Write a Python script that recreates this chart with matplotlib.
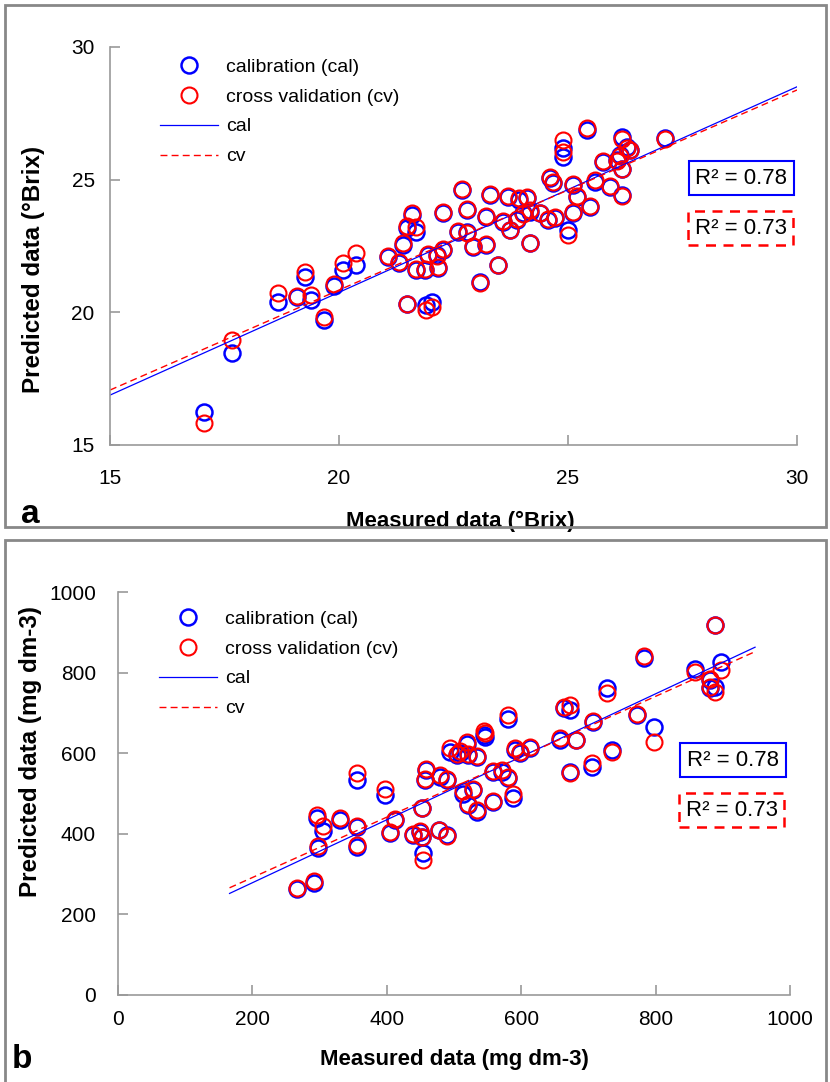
import matplotlib
matplotlib.use("Agg")
import matplotlib.pyplot as plt
from matplotlib.patches import Rectangle
from matplotlib import font_manager

# --- panel a: soluble solids (°Brix) ---
brix_meas = [17.06, 17.67, 18.67, 19.08, 19.26, 19.38, 19.67, 19.88, 20.09, 20.37,
             21.08, 21.30, 21.39, 21.48, 21.48, 21.59, 21.69, 21.69, 21.88, 21.91,
             22.02, 21.95, 22.13, 22.17, 22.28, 22.28, 22.68, 22.60, 22.79, 22.79,
             22.93, 23.22, 23.30, 23.22, 23.48, 23.08, 23.70, 23.59, 23.73, 23.92,
             24.10, 24.17, 24.02, 24.17, 23.88, 24.39, 24.61, 24.68, 24.57, 24.72,
             24.90, 24.90, 25.00, 25.12, 25.19, 25.12, 25.41, 25.48, 25.59, 25.77,
             25.92, 26.17, 26.17, 26.28, 26.14, 26.17, 26.35, 27.12, 26.06]
brix_cal = [16.26, 18.48, 20.40, 20.59, 21.34, 20.47, 19.71, 21.00, 21.60, 21.78,
            22.10, 21.85, 22.54, 20.31, 23.17, 23.67, 23.04, 21.60, 21.60, 20.28,
            20.40, 22.16, 22.16, 21.66, 22.35, 23.73, 24.61, 23.04, 23.86, 23.04,
            22.47, 23.60, 24.42, 22.54, 21.78, 21.16, 24.36, 23.42, 23.10, 24.23,
            24.30, 23.79, 23.73, 22.60, 23.48, 23.73, 25.05, 24.86, 23.48, 23.54,
            26.20, 25.87, 23.10, 24.80, 24.36, 23.73, 26.86, 23.98, 24.92, 25.68,
            24.73, 24.42, 26.62, 26.24, 25.93, 25.42, 26.12, 26.56, 25.74]
brix_cv = [15.84, 18.96, 20.74, 20.62, 21.53, 20.65, 19.84, 21.05, 21.85, 22.22,
           22.12, 21.90, 22.60, 20.31, 23.25, 23.75, 23.23, 21.62, 21.64, 20.09,
           20.20, 22.20, 22.14, 21.70, 22.38, 23.80, 24.64, 23.06, 23.88, 23.00,
           22.50, 23.62, 24.45, 22.56, 21.80, 21.12, 24.40, 23.45, 23.12, 24.30,
           24.35, 23.85, 23.70, 22.60, 23.50, 23.76, 25.10, 24.90, 23.50, 23.60,
           26.50, 26.06, 22.90, 24.85, 24.40, 23.78, 26.95, 24.02, 24.98, 25.72,
           24.76, 24.40, 26.55, 26.20, 25.90, 25.40, 26.10, 26.52, 25.70]
brix_fit_x = [15, 30]
brix_fit_cal = [16.88, 28.50]
brix_fit_cv = [17.07, 28.38]

# --- panel b: mg dm-3 ---
mg_meas = [266, 292, 296, 305, 298, 330, 355, 355, 355, 397,
           412, 405, 452, 439, 449, 452, 454, 477, 490, 459,
           457, 479, 489, 494, 504, 519, 521, 534, 544, 514,
           521, 534, 529, 558, 558, 571, 581, 588, 591, 598,
           613, 581, 658, 663, 673, 673, 682, 707, 727, 705,
           735, 782, 772, 797, 859, 888, 898, 881, 888, 881,
           546, 509]
mg_cal = [262, 278, 438, 408, 365, 435, 533, 418, 368, 496,
          434, 401, 463, 397, 405, 393, 352, 409, 397, 558,
          533, 542, 533, 604, 595, 624, 595, 591, 645, 500,
          471, 455, 509, 479, 554, 554, 538, 490, 608, 600,
          612, 685, 633, 711, 707, 554, 633, 678, 761, 565,
          608, 835, 695, 666, 810, 918, 827, 782, 765, 761,
          640, 600]
mg_cv = [265, 284, 446, 420, 370, 440, 550, 420, 372, 510,
         436, 404, 465, 400, 408, 392, 335, 410, 395, 562,
         535, 545, 536, 612, 598, 628, 597, 594, 655, 505,
         475, 458, 512, 482, 556, 558, 541, 500, 612, 603,
         615, 695, 637, 715, 720, 550, 632, 680, 749, 575,
         602, 840, 697, 628, 802, 918, 806, 785, 752, 765,
         650, 605]
mg_fit_x = [166, 948]
mg_fit_cal = [252, 863]
mg_fit_cv = [266, 852]

names = {f.name for f in font_manager.fontManager.ttflist}
narrow = 'Liberation Sans Narrow' if 'Liberation Sans Narrow' in names else 'Liberation Sans'
plt.rcParams['font.family'] = [narrow, 'DejaVu Sans']

BLUE = '#0000FF'
RED = '#FF0000'
GRAY = '#999999'

fig = plt.figure(figsize=(8.3, 10.82), dpi=100)

# panel frames
fig.patches.append(Rectangle((5/830, 1-527/1082), 821/830, 522/1082, transform=fig.transFigure,
                             fill=False, edgecolor='#888888', lw=2))
fig.patches.append(Rectangle((5/830, -0.01), 821/830, 1-540/1082+0.01, transform=fig.transFigure,
                             fill=False, edgecolor='#888888', lw=2))


def panel(rect, x, ycal, ycv, fx, fcal, fcv, lim, ticks, xlabel, ylabel,
          ylab_xy, xlab_xy, tpad_x, tpad_y, leg_anchor, r2_cal, r2_cv, letter, letter_pos):
    ax = fig.add_axes(rect)
    ax.plot(x, ycal, 'o', ms=11.5, mfc='none', mec=BLUE, mew=1.8, label='calibration (cal)')
    ax.plot(x, ycv, 'o', ms=11.5, mfc='none', mec=RED, mew=1.5, label='cross validation (cv)')
    ax.plot(fx, fcal, '-', color=BLUE, lw=0.9, label='cal')
    ax.plot(fx, fcv, '--', color=RED, lw=1.0, dashes=(5, 3), label='cv')
    ax.set_xlim(lim)
    ax.set_ylim(lim)
    ax.set_xticks(ticks)
    ax.set_yticks(ticks)
    for s in ['top', 'right']:
        ax.spines[s].set_visible(False)
    for s in ['left', 'bottom']:
        ax.spines[s].set_color(GRAY)
        ax.spines[s].set_linewidth(1.2)
    ax.tick_params(direction='in', length=7, width=1.2, color=GRAY, labelsize=15)
    ax.tick_params(axis='x', pad=tpad_x)
    ax.tick_params(axis='y', pad=tpad_y)
    ax.set_xlabel(xlabel, fontsize=16, fontweight='bold')
    ax.set_ylabel(ylabel, fontsize=17.5, fontweight='bold', family='Liberation Sans')
    ax.yaxis.set_label_coords(*ylab_xy)
    ax.xaxis.set_label_coords(*xlab_xy)
    ax.legend(loc='upper left', bbox_to_anchor=leg_anchor, frameon=False, fontsize=14,
              numpoints=1, handlelength=3.0, handletextpad=0.4, labelspacing=0.63,
              borderpad=0, borderaxespad=0)
    ax.text(*r2_cal[0], r2_cal[1], transform=ax.transAxes, fontsize=16, ha='center', va='center',
            bbox=dict(boxstyle='square,pad=0.3', fc='white', ec=BLUE, lw=1.5))
    ax.text(*r2_cv[0], r2_cv[1], transform=ax.transAxes, fontsize=16, ha='center', va='center',
            bbox=dict(boxstyle='square,pad=0.3', fc='white', ec=RED, lw=1.8, ls=(0, (4, 3))))
    fig.text(letter_pos[0], letter_pos[1], letter, fontsize=24, fontweight='bold',
             family='Liberation Sans', ha='center', va='center')
    return ax


panel([110/830, 1-445/1082, 687/830, 398/1082], brix_meas, brix_cal, brix_cv,
      brix_fit_x, brix_fit_cal, brix_fit_cv, (15, 30), [15, 20, 25, 30],
      'Measured data (°Brix)', 'Predicted data (°Brix)',
      (-0.095, 0.44), (0.51, -0.165), 17, 11, (0.073, 0.972),
      ((0.919, (445-178)/398), 'R² = 0.78'), ((0.918, (445-228)/398), 'R² = 0.73'),
      'a', (30/830, 1-515/1082))

panel([118/830, 1-995/1082, 672/830, 403/1082], mg_meas, mg_cal, mg_cv,
      mg_fit_x, mg_fit_cal, mg_fit_cv, (0, 1000), [0, 200, 400, 600, 800, 1000],
      'Measured data (mg dm-3)', 'Predicted data (mg dm-3)',
      (-0.113, 0.603), (0.5, -0.133), 11, 16, (0.061, 0.955),
      ((0.915, (995-760)/403), 'R² = 0.78'), ((0.913, (995-810)/403), 'R² = 0.73'),
      'b', (22/830, 1-1060/1082))

fig.savefig('out.png', dpi=100)
